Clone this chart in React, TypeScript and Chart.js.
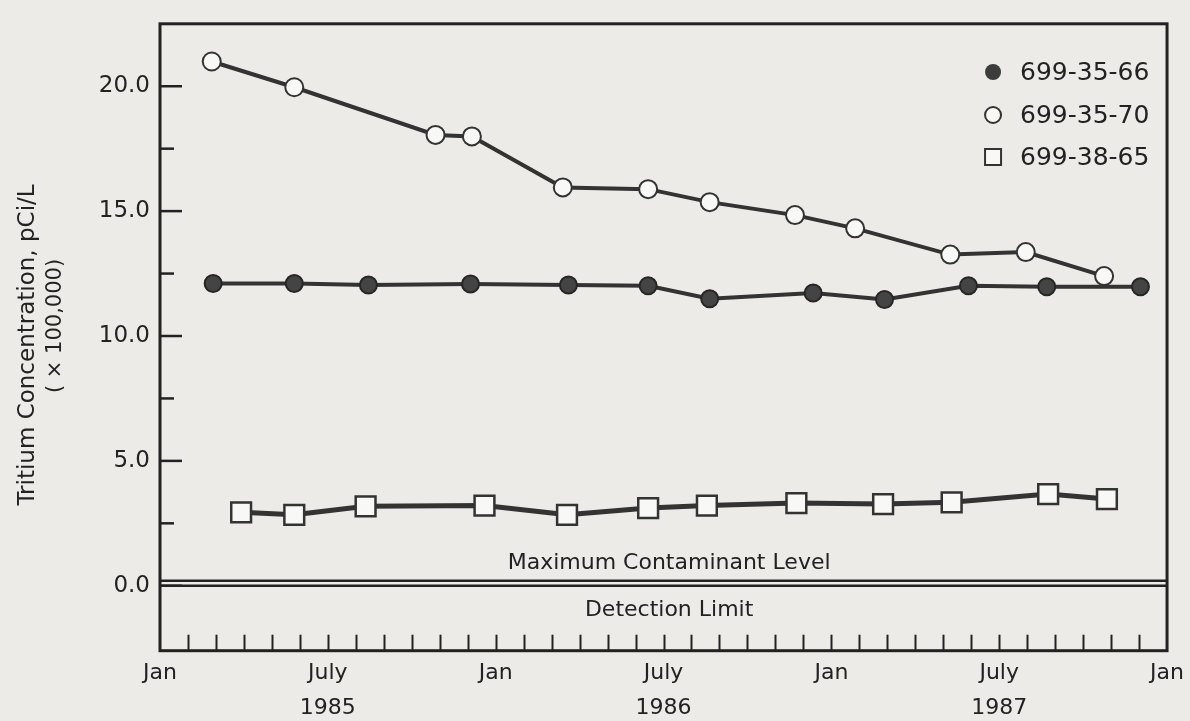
import React, { useEffect, useRef } from 'react';
import { Chart, registerables } from 'chart.js';

Chart.register(...registerables);

// ---- data (x = months since Jan 1985, y = tritium concentration x 100,000 pCi/L) ----
const seriesNames = ['699-35-66', '699-35-70', '699-38-65'];

const well3566Months = [1.9, 4.8, 7.45, 11.1, 14.6, 17.45, 19.65, 23.35, 25.9, 28.9, 31.7, 35.05];
const well3566Values = [12.1, 12.1, 12.04, 12.08, 12.04, 12.01, 11.49, 11.72, 11.46, 12.01, 11.97, 11.97];

const well3570Months = [1.85, 4.8, 9.85, 11.15, 14.4, 17.45, 19.65, 22.7, 24.85, 28.25, 30.95, 33.75];
const well3570Values = [20.99, 19.96, 18.05, 17.99, 15.95, 15.88, 15.36, 14.84, 14.31, 13.26, 13.36, 12.4];

const well3865Months = [2.9, 4.8, 7.35, 11.6, 14.55, 17.45, 19.55, 22.75, 25.85, 28.3, 31.75, 33.85];
const well3865Values = [2.94, 2.84, 3.18, 3.21, 2.84, 3.11, 3.21, 3.31, 3.27, 3.34, 3.67, 3.47];

const mclValue = 0.2;
const detectionLimitValue = 0.0;
const mclLabel = 'Maximum Contaminant Level';
const detectionLabel = 'Detection Limit';

const xLabelMonths = [0, 6, 12, 18, 24, 30, 36];
const xMonthNames = ['Jan', 'July', 'Jan', 'July', 'Jan', 'July', 'Jan'];
const xYearNames = ['', '1985', '', '1986', '', '1987', ''];

const yMajorTicks = [0, 5, 10, 15, 20];
const yMinorTicks = [2.5, 7.5, 12.5, 17.5];

const yTitleLine1 = 'Tritium Concentration, pCi/L';
const yTitleLine2 = '( \u00d7 100,000)';

const PAPER = '#ecebe8';
const INK = '#222222';
const LINE = '#333333';
const FONT = '"DejaVu Sans", "Liberation Sans", sans-serif';

const toPoints = (xs: number[], ys: number[]) => xs.map((x, i) => ({ x, y: ys[i] }));

const decorPlugin = {
  id: 'decor',
  beforeDraw(chart: any) {
    const { ctx } = chart;
    ctx.save();
    ctx.fillStyle = PAPER;
    ctx.fillRect(0, 0, chart.width, chart.height);
    ctx.restore();
  },
  beforeDatasetsDraw(chart: any) {
    const { ctx, chartArea: a, scales } = chart;
    const xs = scales.x;
    const ys = scales.y;
    ctx.save();
    ctx.strokeStyle = INK;
    // month ticks pointing up from bottom axis
    ctx.lineWidth = 2;
    for (let m = 1; m < 36; m++) {
      const px = Math.round(xs.getPixelForValue(m)) + 0.5;
      ctx.beginPath();
      ctx.moveTo(px, a.bottom);
      ctx.lineTo(px, a.bottom - 16);
      ctx.stroke();
    }
    // y ticks pointing right from left axis
    ctx.lineWidth = 2.5;
    yMajorTicks.forEach((v) => {
      const py = ys.getPixelForValue(v);
      ctx.beginPath();
      ctx.moveTo(a.left, py);
      ctx.lineTo(a.left + 22, py);
      ctx.stroke();
    });
    yMinorTicks.forEach((v) => {
      const py = ys.getPixelForValue(v);
      ctx.beginPath();
      ctx.moveTo(a.left, py);
      ctx.lineTo(a.left + 14, py);
      ctx.stroke();
    });
    // frame
    ctx.lineWidth = 3;
    ctx.strokeRect(a.left, a.top, a.right - a.left, a.bottom - a.top);
    ctx.restore();
  },
  afterDraw(chart: any) {
    const { ctx, chartArea: a, scales } = chart;
    const xs = scales.x;
    const ys = scales.y;
    ctx.save();
    ctx.fillStyle = INK;

    // annotation labels
    ctx.font = `22px ${FONT}`;
    ctx.textAlign = 'center';
    ctx.textBaseline = 'alphabetic';
    ctx.fillText(mclLabel, xs.getPixelForValue(18.2), ys.getPixelForValue(mclValue) - 12);
    ctx.fillText(detectionLabel, xs.getPixelForValue(18.2), ys.getPixelForValue(detectionLimitValue) + 30);

    // legend
    const lx = a.right - 174;
    const rows = [72, 115, 157];
    ctx.lineWidth = 2;
    ctx.strokeStyle = '#333';
    // filled circle
    ctx.beginPath();
    ctx.arc(lx, rows[0], 8, 0, Math.PI * 2);
    ctx.fillStyle = '#3c3c3c';
    ctx.fill();
    // open circle
    ctx.beginPath();
    ctx.arc(lx, rows[1], 8, 0, Math.PI * 2);
    ctx.fillStyle = '#f8f8f6';
    ctx.fill();
    ctx.stroke();
    // open square
    ctx.fillStyle = '#f8f8f6';
    ctx.fillRect(lx - 8, rows[2] - 8, 16, 16);
    ctx.strokeRect(lx - 8, rows[2] - 8, 16, 16);

    ctx.fillStyle = INK;
    ctx.font = `25px ${FONT}`;
    ctx.textAlign = 'left';
    ctx.textBaseline = 'middle';
    seriesNames.forEach((n, i) => ctx.fillText(n, lx + 27, rows[i] + 1));

    // y axis title (rotated)
    ctx.textAlign = 'center';
    ctx.textBaseline = 'middle';
    ctx.save();
    ctx.translate(28, 345);
    ctx.rotate(-Math.PI / 2);
    ctx.font = `23px ${FONT}`;
    ctx.fillText(yTitleLine1, 0, 0);
    ctx.restore();
    ctx.save();
    ctx.translate(56, 326);
    ctx.rotate(-Math.PI / 2);
    ctx.font = `21px ${FONT}`;
    ctx.fillText(yTitleLine2, 0, 0);
    ctx.restore();

    ctx.restore();
  },
};

export default function App() {
  const canvasRef = useRef<HTMLCanvasElement | null>(null);

  useEffect(() => {
    document.body.style.margin = '0';
    document.body.style.background = PAPER;
    const canvas = canvasRef.current;
    if (!canvas) return;

    const chart = new Chart(canvas, {
      type: 'scatter',
      data: {
        datasets: [
          {
            label: 'MCL',
            data: [{ x: 0, y: mclValue }, { x: 36, y: mclValue }],
            showLine: true,
            borderColor: INK,
            borderWidth: 2.5,
            pointRadius: 0,
          },
          {
            label: 'DL',
            data: [{ x: 0, y: detectionLimitValue }, { x: 36, y: detectionLimitValue }],
            showLine: true,
            borderColor: INK,
            borderWidth: 2.5,
            pointRadius: 0,
          },
          {
            label: seriesNames[0],
            data: toPoints(well3566Months, well3566Values),
            showLine: true,
            borderColor: LINE,
            borderWidth: 4,
            pointStyle: 'circle',
            pointRadius: 8.5,
            pointBackgroundColor: '#444444',
            pointBorderColor: '#262626',
            pointBorderWidth: 2,
          },
          {
            label: seriesNames[1],
            data: toPoints(well3570Months, well3570Values),
            showLine: true,
            borderColor: LINE,
            borderWidth: 4,
            pointStyle: 'circle',
            pointRadius: 9,
            pointBackgroundColor: '#f8f8f6',
            pointBorderColor: '#333',
            pointBorderWidth: 2,
          },
          {
            label: seriesNames[2],
            data: toPoints(well3865Months, well3865Values),
            showLine: true,
            borderColor: LINE,
            borderWidth: 5,
            pointStyle: 'rect',
            pointRadius: 14,
            pointBackgroundColor: '#f8f8f6',
            pointBorderColor: '#333',
            pointBorderWidth: 2.5,
          },
        ],
      },
      options: {
        animation: false,
        responsive: false,
        maintainAspectRatio: false,
        layout: { padding: { top: 14, right: 18.3, left: 0, bottom: 0 } },
        plugins: { legend: { display: false }, tooltip: { enabled: false } },
        scales: {
          x: {
            type: 'linear',
            min: 0,
            max: 36,
            afterBuildTicks: (s: any) => {
              s.ticks = xLabelMonths.map((v) => ({ value: v }));
            },
            afterFit: (s: any) => {
              s.height = 70.3;
            },
            ticks: {
              autoSkip: false,
              maxRotation: 0,
              minRotation: 0,
              padding: 6,
              color: INK,
              font: { family: FONT, size: 22, lineHeight: 1.55 },
              callback: (v: any) => {
                const i = xLabelMonths.indexOf(Number(v));
                if (i < 0) return '';
                return xYearNames[i] ? [xMonthNames[i], xYearNames[i]] : xMonthNames[i];
              },
            },
            grid: { display: false, drawTicks: false },
            border: { display: false },
          },
          y: {
            type: 'linear',
            min: -2.6,
            max: 22.5,
            afterBuildTicks: (s: any) => {
              s.ticks = yMajorTicks.map((v) => ({ value: v }));
            },
            afterFit: (s: any) => {
              s.width = 160;
            },
            ticks: {
              padding: 10,
              color: INK,
              font: { family: FONT, size: 23 },
              callback: (v: any) => Number(v).toFixed(1),
            },
            grid: { display: false, drawTicks: false },
            border: { display: false },
          },
        },
      },
      plugins: [decorPlugin],
    });

    return () => chart.destroy();
  }, []);

  return (
    <div style={{ width: 1190, height: 721, background: PAPER }}>
      <canvas ref={canvasRef} width={1190} height={721} style={{ display: 'block', width: 1190, height: 721 }} />
    </div>
  );
}
